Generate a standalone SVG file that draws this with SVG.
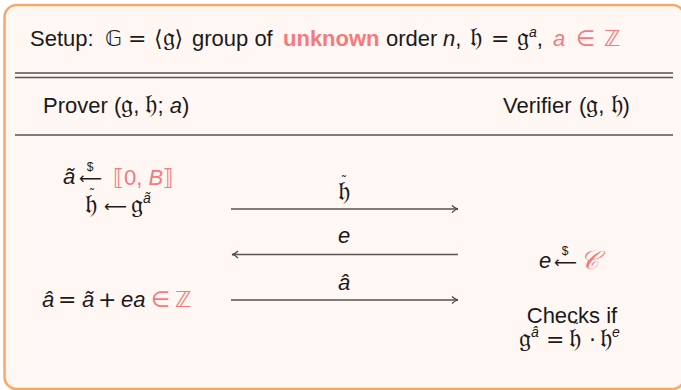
<svg xmlns="http://www.w3.org/2000/svg" width="681" height="390" viewBox="0 0 681 390">
<defs>
<style>
text{font-family:"Liberation Sans","DejaVu Sans",sans-serif;font-size:22px;fill:#1a1a1a}
.r{fill:#F47A7E}
.i{font-style:italic}
.m{font-family:"DejaVu Sans","DejaVu Serif",sans-serif}
.f{font-family:"DejaVu Sans","DejaVu Serif",sans-serif;font-size:27px}
.ar{font-family:"DejaVu Sans",sans-serif;font-size:16px}
.s{font-size:14px}
.d{font-size:12px}
.rule{stroke:#555;stroke-width:1.6;fill:none}
.conn{stroke:#555;stroke-width:1.5;fill:none}
</style>
<marker id="ah" viewBox="0 0 10 10" refX="9" refY="5" markerWidth="10" markerHeight="10" markerUnits="userSpaceOnUse" orient="auto-start-reverse">
<path d="M3,1.5 Q6,4.5 9,5 Q6,5.5 3,8.5" fill="none" stroke="#444" stroke-width="1.2"/>
</marker>
</defs>
<rect x="0" y="0" width="681" height="390" fill="#fff"/>
<rect id="frame" x="4.5" y="5" width="680" height="384" rx="12" ry="12" fill="#FFF7F3" stroke="#F9A866" stroke-width="2.5"/>
<g id="setup">
<text y="46"><tspan x="30">Setup:</tspan><tspan x="105" class="m">𝔾</tspan><tspan x="128" class="m">=</tspan><tspan x="154" class="m">⟨</tspan><tspan class="f">𝔤</tspan><tspan class="m">⟩</tspan><tspan x="192">group of</tspan><tspan x="283" class="r" font-weight="bold">unknown</tspan><tspan x="386">order</tspan><tspan x="443" class="i">n</tspan><tspan>,</tspan><tspan x="470" class="f">𝔥</tspan><tspan x="491" class="m">=</tspan><tspan x="517" class="f">𝔤</tspan><tspan class="i s" dy="-9">a</tspan><tspan dy="9">,</tspan><tspan x="553" class="r i">a</tspan><tspan x="576" class="r m">∈</tspan><tspan x="604" class="r m">ℤ</tspan></text>
</g>
<g id="rules">
<line class="rule" x1="15" y1="73" x2="673" y2="73"/>
<line class="rule" x1="15" y1="77.5" x2="673" y2="77.5"/>
<line class="rule" x1="15" y1="135" x2="673" y2="135"/>
</g>
<g id="prover-head">
<text x="43" y="113">Prover (<tspan class="f">𝔤</tspan>, <tspan class="f">𝔥</tspan>; <tspan class="i">a</tspan>)</text>
</g>
<g id="verifier-head">
<text y="113"><tspan x="503">Verifier</tspan><tspan x="579">(</tspan><tspan class="f">𝔤</tspan><tspan>, </tspan><tspan class="f">𝔥</tspan><tspan>)</tspan></text>
</g>
<g id="prover">
<text y="184"><tspan x="63" class="i">ã</tspan><tspan x="79" y="184" class="ar">⟵</tspan><tspan x="90" y="171" class="d" text-anchor="middle">$</tspan><tspan x="113" y="185" class="r m">⟦</tspan><tspan class="r">0, </tspan><tspan class="r i">B</tspan><tspan class="r m">⟧</tspan></text>
<text y="213"><tspan x="85" class="f">𝔥</tspan><tspan x="92" y="198" class="d" text-anchor="middle">˜</tspan><tspan x="104" y="212" class="ar">⟵</tspan><tspan x="131" y="213" class="f">𝔤</tspan><tspan class="i s" dy="-10">ã</tspan></text>
<text y="307"><tspan x="42" class="i">â</tspan><tspan x="58" class="m">=</tspan><tspan x="82" class="i">ã</tspan><tspan x="98" class="m">+</tspan><tspan x="121" class="i">ea</tspan><tspan x="151" class="r m">∈</tspan><tspan x="175" class="r m">ℤ</tspan></text>
</g>
<g id="verifier">
<text y="268"><tspan x="539" class="i">e</tspan><tspan x="554" y="268" class="ar">⟵</tspan><tspan x="565" y="255" class="d" text-anchor="middle">$</tspan><tspan x="580" y="269" class="r i" font-family="DejaVu Serif" font-size="26">𝒞</tspan></text>
<text x="572" y="323" text-anchor="middle">Checks if</text>
<text y="347"><tspan x="519" class="f">𝔤</tspan><tspan class="i s" dy="-10">â</tspan><tspan x="546" y="347" class="m">=</tspan><tspan x="569" class="f">𝔥</tspan><tspan x="576" y="332" class="d" text-anchor="middle">˜</tspan><tspan x="589" y="347" class="m">·</tspan><tspan x="600" class="f">𝔥</tspan><tspan class="i s" dy="-10">e</tspan></text>
</g>
<g id="connectors">
<line class="conn" x1="231" y1="209" x2="458" y2="209" marker-end="url(#ah)"/>
<line class="conn" x1="458" y1="254.5" x2="232" y2="254.5" marker-end="url(#ah)"/>
<line class="conn" x1="231" y1="300" x2="458" y2="300" marker-end="url(#ah)"/>
<text y="200" text-anchor="middle"><tspan x="344" class="f">𝔥</tspan><tspan x="344" y="185" class="d">˜</tspan></text>
<text x="344" y="243" text-anchor="middle" class="i">e</text>
<text x="344" y="290" text-anchor="middle" class="i">â</text>
</g>
</svg>
